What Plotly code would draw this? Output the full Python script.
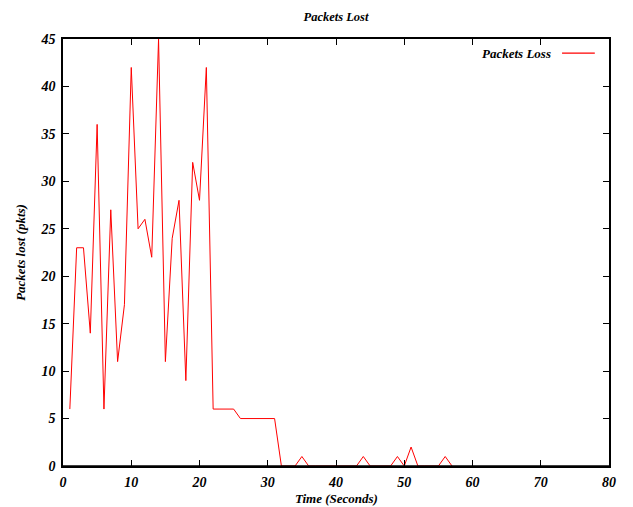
import plotly.graph_objects as go

# packets lost per second
time_s = list(range(1, 58))
packets_lost = [6, 23, 23, 14, 36, 6, 27, 11, 17, 42,
                25, 26, 22, 45, 11, 24, 28, 9, 32, 28,
                42, 6, 6, 6, 6, 5, 5, 5, 5, 5,
                5, 0, 0, 0, 1, 0, 0, 0, 0, 0,
                0, 0, 0, 1, 0, 0, 0, 0, 1, 0,
                2, 0, 0, 0, 0, 1, 0]

x_ticks = [0, 10, 20, 30, 40, 50, 60, 70, 80]
y_ticks = [0, 5, 10, 15, 20, 25, 30, 35, 40, 45]

FONT = "Liberation Serif"

def bi(s):
    return f"<b><i>{s}</i></b>"

fig = go.Figure()
fig.add_trace(go.Scatter(
    x=time_s, y=packets_lost, mode="lines", name="Packets Loss",
    line=dict(color="#ff0000", width=1), showlegend=False,
))

axis_style = dict(
    showline=True, linecolor="black", linewidth=1.5, mirror="ticks",
    ticks="inside", ticklen=6, tickwidth=1.2, tickcolor="black",
    showgrid=False, zeroline=False, automargin=False,
    tickfont=dict(family=FONT, size=14, color="black"),
)

fig.update_xaxes(range=[0, 80], tickvals=x_ticks,
                 ticktext=[bi(v) for v in x_ticks], ticklabelstandoff=2,
                 **axis_style)
fig.update_yaxes(range=[0, 45], tickvals=y_ticks,
                 ticktext=[bi(v) for v in y_ticks], ticklabelstandoff=3,
                 title=dict(text=bi("Packets lost (pkts)"), standoff=12,
                            font=dict(family=FONT, size=13, color="black")),
                 **axis_style)

# x title placed low, near the bottom edge, as in the original
fig.add_annotation(xref="paper", yref="paper", x=0.5, y=-0.077,
                   xanchor="center", yanchor="middle", showarrow=False,
                   text=bi("Time (Seconds)"),
                   font=dict(family=FONT, size=13, color="black"))

# bottom border drawn over the trace, so zero runs hide under it like gnuplot
fig.add_shape(type="line", xref="paper", yref="y", x0=0, x1=1, y0=0, y1=0,
              line=dict(color="black", width=1.5), layer="above")

# gnuplot-style key: text, then line sample to the right
fig.add_annotation(xref="paper", yref="paper", x=0.897, y=0.967,
                   xanchor="right", yanchor="middle", showarrow=False,
                   text=bi("Packets Loss"),
                   font=dict(family=FONT, size=13, color="black"))
fig.add_shape(type="line", xref="paper", yref="paper",
              x0=0.914, x1=0.974, y0=0.967, y1=0.967,
              line=dict(color="#ff0000", width=1.2))

# page body has an 8px margin, so the figure is 8px smaller than the window
fig.update_layout(
    width=625, height=499,
    margin=dict(l=55, r=24, t=31, b=41),
    paper_bgcolor="white", plot_bgcolor="white",
    title=dict(text=bi("Packets Lost"), x=0.5, xref="paper", y=0.982,
               yanchor="middle",
               font=dict(family=FONT, size=12.5, color="black")),
)

fig.write_html("out.html")
